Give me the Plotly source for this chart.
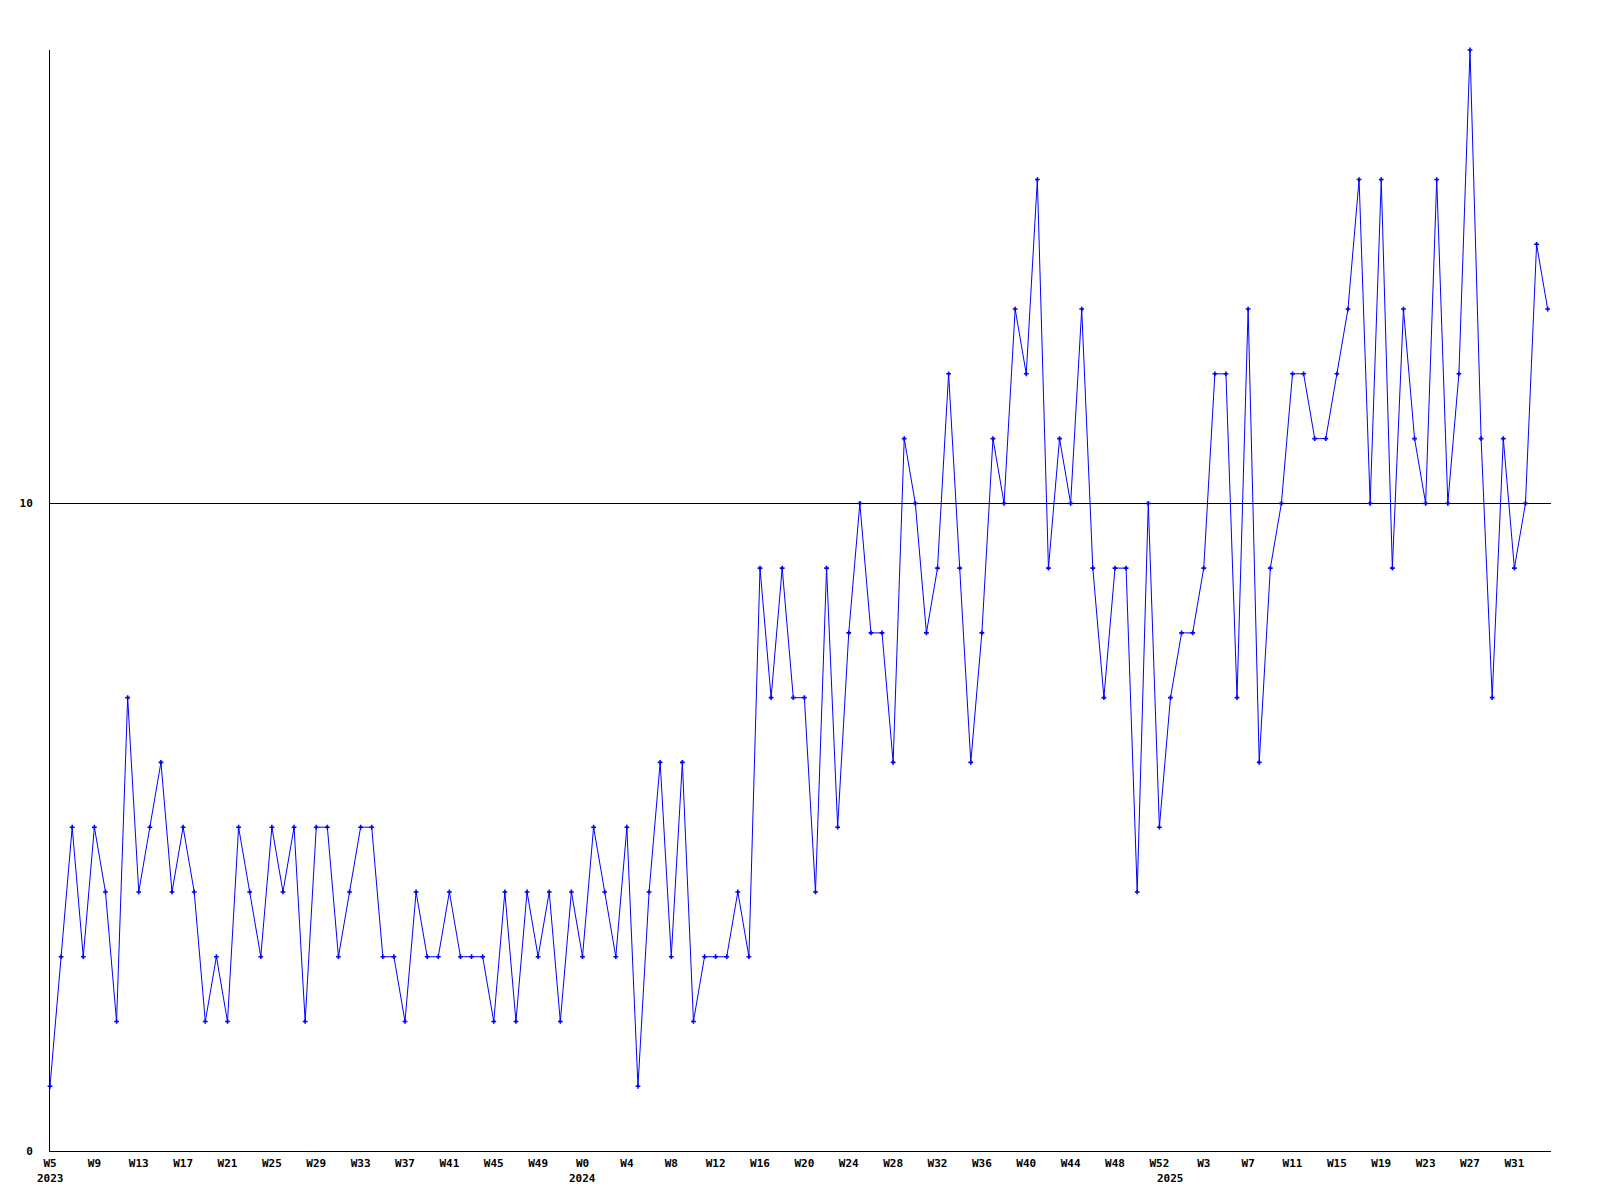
import plotly.graph_objects as go

# Week numbers per year (x categories)
weeks_2023 = list(range(5, 53))
weeks_2024 = list(range(0, 53))
weeks_2025 = list(range(0, 35))

categories = ([f"2023 W{w}" for w in weeks_2023]
              + [f"2024 W{w}" for w in weeks_2024]
              + [f"2025 W{w}" for w in weeks_2025])

values_2023 = [1, 3, 5, 3, 5, 4, 2, 7, 4, 5, 6, 4, 5, 4, 2, 3, 2, 5, 4, 3,
               5, 4, 5, 2, 5, 5, 3, 4, 5, 5, 3, 3, 2, 4, 3, 3, 4, 3, 3, 3,
               2, 4, 2, 4, 3, 4, 2, 4]
values_2024 = [3, 5, 4, 3, 5, 1, 4, 6, 3, 6, 2, 3, 3, 3, 4, 3, 9, 7, 9, 7,
               7, 4, 9, 5, 8, 10, 8, 8, 6, 11, 10, 8, 9, 12, 9, 6, 8, 11, 10, 13,
               12, 15, 9, 11, 10, 13, 9, 7, 9, 9, 4, 10, 5]
values_2025 = [7, 8, 8, 9, 12, 12, 7, 13, 6, 9, 10, 12, 12, 11, 11, 12, 13, 15, 10, 15,
               9, 13, 11, 10, 15, 10, 12, 17, 11, 7, 11, 9, 10, 14, 13]

values = values_2023 + values_2024 + values_2025

tick_step = 4
tick_vals = categories[::tick_step]
tick_text = [c.split(" ")[1] for c in tick_vals]

year_labels = ["2023", "2024", "2025"]
year_first_week = ["2023 W5", "2024 W0", "2025 W0"]

y_ticks = [0, 10]

FONT = "DejaVu Sans Mono"

fig = go.Figure()
fig.add_trace(go.Scatter(
    x=categories, y=values, mode="lines+markers",
    line=dict(color="#0000FF", width=1),
    marker=dict(symbol="cross", size=4, color="#0000FF", line=dict(width=0)),
    showlegend=False, cliponaxis=False,
))

for lab, wk in zip(year_labels, year_first_week):
    fig.add_annotation(x=wk, y=0, yref="paper", xref="x", text=lab,
                       showarrow=False, yanchor="middle", yshift=-27,
                       font=dict(family=FONT, size=11, color="black", weight="bold"))

fig.update_layout(
    width=1600, height=1200,
    margin=dict(l=42, r=57, t=42, b=57),
    paper_bgcolor="white", plot_bgcolor="white",
    xaxis=dict(
        type="category", range=[0, 135.3],
        tickmode="array", tickvals=tick_vals, ticktext=tick_text, tickangle=0,
        showgrid=False, zeroline=False, showline=True, linecolor="black", linewidth=1,
        ticks="", ticklabelstandoff=2,
        tickfont=dict(family=FONT, size=11, color="black", weight="bold"),
    ),
    yaxis=dict(
        range=[0, 17], tickmode="array", tickvals=y_ticks,
        showgrid=True, gridcolor="black", gridwidth=1,
        zeroline=False, showline=True, linecolor="black", linewidth=1,
        ticks="", ticklabelstandoff=14,
        tickfont=dict(family=FONT, size=11, color="black", weight="bold"),
    ),
)

fig.write_html("out.html")
